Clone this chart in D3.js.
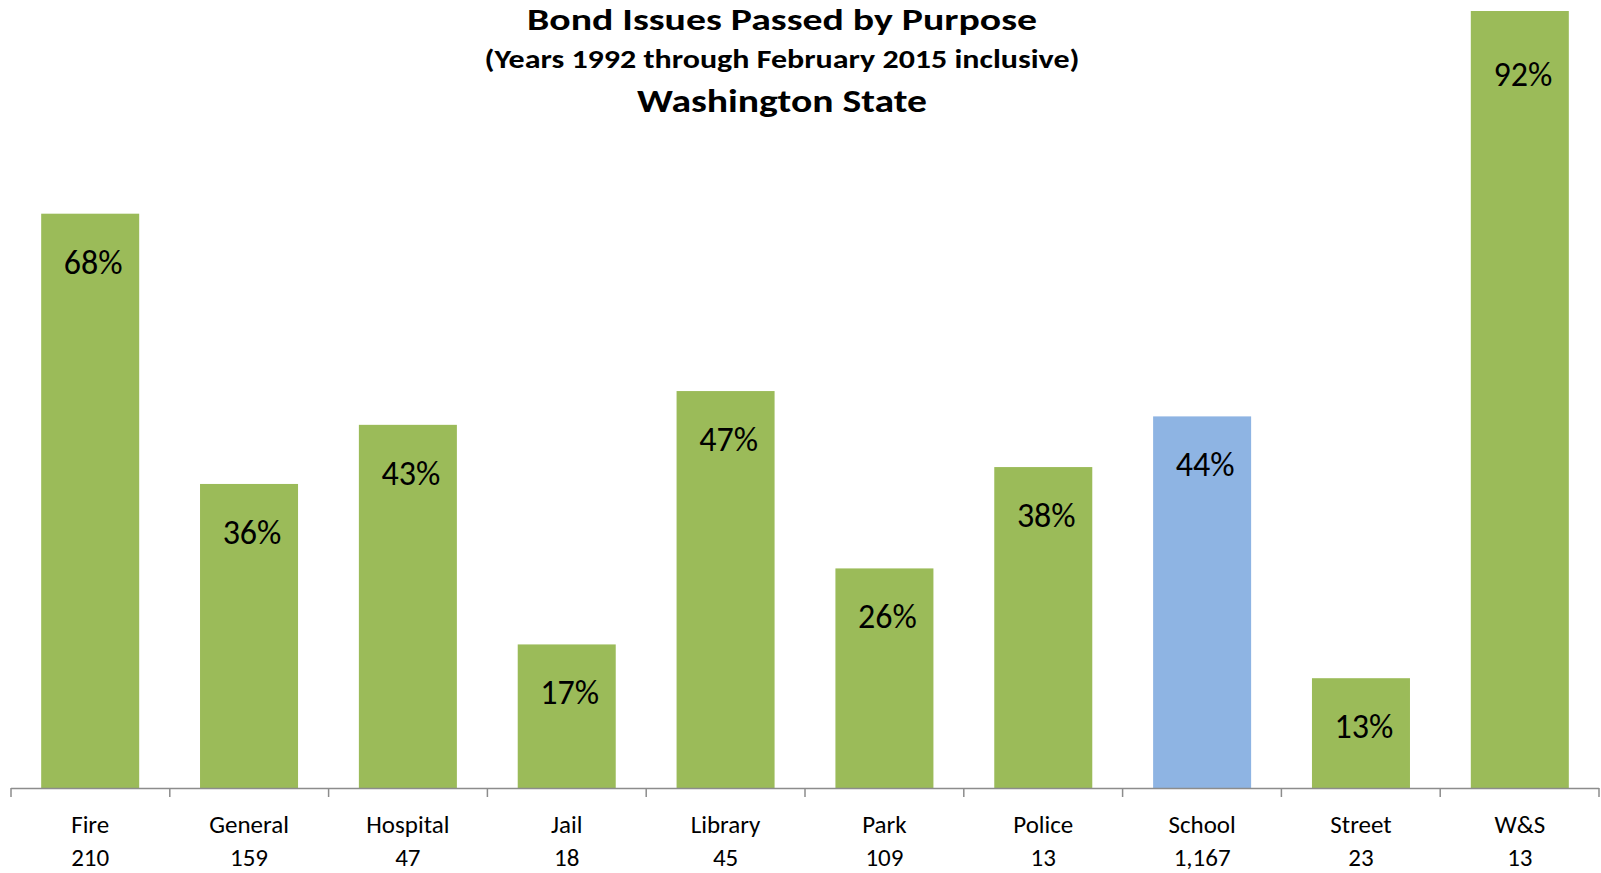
<!DOCTYPE html>
<html>
<head>
<meta charset="utf-8">
<script src="https://cdn.jsdelivr.net/npm/d3@7"></script>
<style>
  html, body { margin: 0; padding: 0; background: #fff; }
  svg { display: block; font-family: Carlito, Calibri, Lato, sans-serif; }
</style>
</head>
<body>
<svg id="chart" width="1601" height="873"></svg>
<script>
// Bond issues passed by purpose, Washington State (1992 - Feb 2015)
const categories = ["Fire", "General", "Hospital", "Jail", "Library", "Park", "Police", "School", "Street", "W&S"];
const issueCounts = ["210", "159", "47", "18", "45", "109", "13", "1,167", "23", "13"];
const passRates = [0.68, 0.36, 0.43, 0.17, 0.47, 0.26, 0.38, 0.44, 0.13, 0.92];
const highlighted = ["School"];

const titleLines = [
  "Bond Issues Passed by Purpose",
  "(Years 1992 through February 2015 inclusive)",
  "Washington State"
];

const width = 1601, height = 873;
const margin = { left: 11, right: 2, bottom: 85 };
const plotTop = 11;
const baseY = height - margin.bottom; // 788

const svg = d3.select("#chart");

const x = d3.scaleBand()
  .domain(categories)
  .range([margin.left, width - margin.right])
  .paddingInner(0.383)
  .paddingOuter(0.19);

const y = d3.scaleLinear()
  .domain([0, d3.max(passRates)])
  .range([baseY, plotTop]);

const data = categories.map((c, i) => ({ cat: c, count: issueCounts[i], rate: passRates[i] }));

// bars
svg.append("g").selectAll("rect")
  .data(data)
  .join("rect")
  .attr("x", d => x(d.cat))
  .attr("y", d => y(d.rate))
  .attr("width", x.bandwidth())
  .attr("height", d => baseY - y(d.rate))
  .attr("fill", d => highlighted.includes(d.cat) ? "#8EB4E3" : "#9BBB59");

// value labels inside the top of each bar
const pct = d3.format(".0%");
svg.append("g").selectAll("text")
  .data(data)
  .join("text")
  .attr("x", d => x(d.cat) + x.bandwidth() / 2 + 3)
  .attr("y", d => Math.max(y(d.rate) + 60, 86))
  .attr("text-anchor", "middle")
  .attr("font-size", 34)
  .attr("fill", "#000")
  .text(d => pct(d.rate));

// category axis: line with ticks at band boundaries
const axisStart = margin.left, axisEnd = width - margin.right;
const axisG = svg.append("g").attr("stroke", "#8c8c8c").attr("stroke-width", 1.5);
axisG.append("line")
  .attr("x1", axisStart).attr("x2", axisEnd)
  .attr("y1", baseY + 0.5).attr("y2", baseY + 0.5);
const boundaries = d3.range(categories.length + 1).map(i => axisStart + i * (axisEnd - axisStart) / categories.length);
axisG.selectAll("line.tick")
  .data(boundaries)
  .join("line")
  .attr("class", "tick")
  .attr("x1", d => d).attr("x2", d => d)
  .attr("y1", baseY).attr("y2", baseY + 9);

// category names and issue counts
const labelG = svg.append("g").attr("text-anchor", "middle").attr("font-size", 25).attr("fill", "#000");
labelG.selectAll("text.cat")
  .data(data)
  .join("text")
  .attr("class", "cat")
  .attr("x", d => x(d.cat) + x.bandwidth() / 2)
  .attr("y", 833)
  .text(d => d.cat);
labelG.selectAll("text.count")
  .data(data)
  .join("text")
  .attr("class", "count")
  .attr("x", d => x(d.cat) + x.bandwidth() / 2)
  .attr("y", 866)
  .text(d => d.count);

// title block
const titleSpec = [
  { y: 30, size: 30, len: 510 },
  { y: 68, size: 27, len: 595 },
  { y: 112, size: 33, len: 290 }
];
svg.append("g").attr("text-anchor", "middle").attr("font-weight", "bold").attr("fill", "#000")
  .selectAll("text")
  .data(titleLines)
  .join("text")
  .attr("x", 782)
  .attr("y", (d, i) => titleSpec[i].y)
  .attr("font-size", (d, i) => titleSpec[i].size)
  .attr("textLength", (d, i) => titleSpec[i].len)
  .attr("lengthAdjust", "spacingAndGlyphs")
  .text(d => d);
</script>
</body>
</html>
